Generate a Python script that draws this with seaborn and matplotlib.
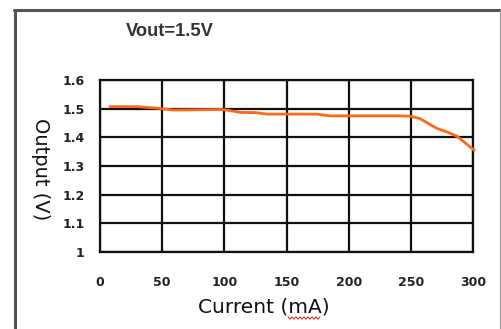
import matplotlib
matplotlib.use("Agg")
import matplotlib.pyplot as plt
import seaborn as sns
import pandas as pd
from matplotlib.lines import Line2D

# ---- data ----
current_ma = [8, 30, 48, 59, 99, 113, 126, 134, 174, 185, 238, 249, 257, 271, 279, 287, 301]
output_v = [1.507, 1.507, 1.501, 1.495, 1.497, 1.487, 1.486, 1.481, 1.481, 1.475, 1.475,
            1.474, 1.466, 1.431, 1.419, 1.404, 1.355]
x_ticks = [0, 50, 100, 150, 200, 250, 300]
y_ticks = [1.0, 1.1, 1.2, 1.3, 1.4, 1.5, 1.6]
y_tick_labels = ["1", "1.1", "1.2", "1.3", "1.4", "1.5", "1.6"]
title_text = "Vout=1.5V"
x_label = "Current (mA)"
y_label = "Output (V)"

df = pd.DataFrame({"current": current_ma, "output": output_v})

sns.set_style("white")
plt.rcParams["font.family"] = ["DejaVu Sans"]

W, H = 501, 329
fig = plt.figure(figsize=(W / 100, H / 100), dpi=100)
fig.patch.set_facecolor("white")

ax = fig.add_axes([100 / W, 1 - 252 / H, 373 / W, 172 / H])
ax.set_facecolor("white")

sns.lineplot(data=df, x="current", y="output", ax=ax, color="#ff6a1a",
             linewidth=2.0, clip_on=False, zorder=5)

ax.set_xlim(0, 300)
ax.set_ylim(1.0, 1.6)
ax.set_xticks(x_ticks)
ax.set_yticks(y_ticks)
ax.set_xticklabels([str(v) for v in x_ticks], fontweight="bold", fontsize=9, color="#222222")
ax.set_yticklabels(y_tick_labels, fontweight="bold", fontsize=9, color="#222222")
ax.tick_params(axis="x", length=0, pad=17)
ax.tick_params(axis="y", length=0, pad=11)
ax.grid(True, color="#111111", linewidth=1.6)
for s in ax.spines.values():
    s.set_visible(True)
    s.set_color("#111111")
    s.set_linewidth(1.6)
ax.set_xlabel("")
ax.set_ylabel("")

# axis labels
fig.text(264 / W, 1 - 307 / H, x_label, ha="center", va="center", fontsize=14.5, color="#111111")
fig.text(40 / W, 1 - 169 / H, y_label, ha="center", va="center", fontsize=14,
         rotation=270, color="#111111")
# title
fig.text(170 / W, 1 - 31 / H, title_text, ha="center", va="center", fontsize=13.2,
         fontweight="bold", family=["Liberation Sans", "DejaVu Sans"], color="#333333")

# outer border (cut by image edge)
fig.add_artist(Line2D([14.5 / W, 14.5 / W], [0, 1 - 9.5 / H], transform=fig.transFigure,
                      color="#555555", linewidth=2.2))
fig.add_artist(Line2D([13.5 / W, 500.5 / W], [1 - 9.5 / H, 1 - 9.5 / H], transform=fig.transFigure,
                      color="#555555", linewidth=2.2))
fig.add_artist(Line2D([500.3 / W, 500.3 / W], [0, 1 - 9.5 / H], transform=fig.transFigure,
                      color="#999999", linewidth=0.8))

# spell-check squiggle under "mA"
sq_x = [288 + i * 2 for i in range(17)]
sq_y = [318 + (1.2 if i % 2 else -1.2) for i in range(17)]
fig.add_artist(Line2D([v / W for v in sq_x], [1 - v / H for v in sq_y], transform=fig.transFigure,
                      color="#e02020", linewidth=0.7))

fig.savefig("out.png", dpi=100)
